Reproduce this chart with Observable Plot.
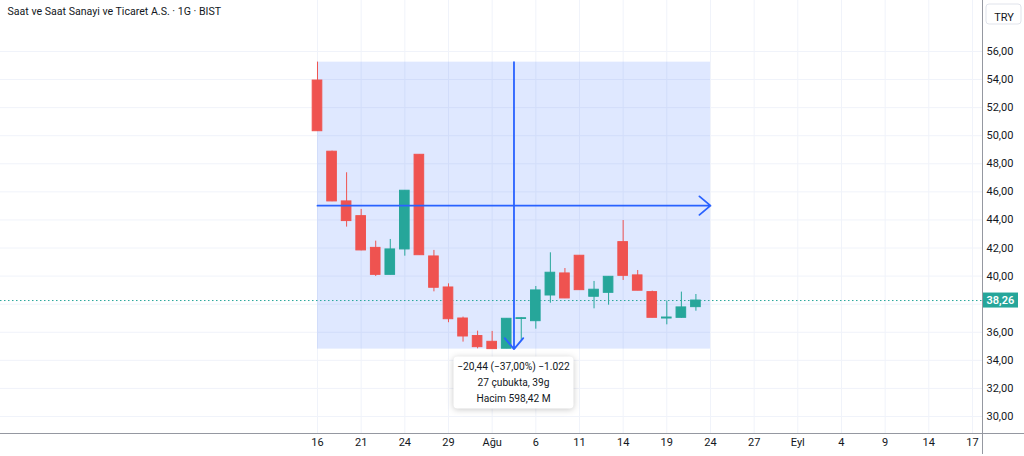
<!DOCTYPE html>
<html>
<head>
<meta charset="utf-8">
<script src="https://cdn.jsdelivr.net/npm/d3@7"></script>
<script src="https://cdn.jsdelivr.net/npm/@observablehq/plot@0.6"></script>
<style>
  html, body { margin: 0; padding: 0; background: #ffffff; }
  #chart svg { display: block; }
</style>
</head>
<body>
<div id="chart"></div>
<script>
// ---- data ----
const title = "Saat ve Saat Sanayi ve Ticaret A.S. · 1G · BIST";
const currency = "TRY";
const opens  = [53.93,48.86,45.32,44.27,42.01,40.09,41.90,48.64,41.40,39.19,36.98,35.73,35.32,34.83,36.95,36.79,38.62,40.19,41.45,38.53,38.81,42.42,40.05,38.86,36.98,37.03,37.79];
const highs  = [55.24,48.90,47.36,44.75,42.49,42.61,46.08,48.64,41.83,39.45,37.08,36.08,36.06,36.96,37.02,39.26,41.66,40.54,41.45,39.62,39.95,43.96,40.40,38.93,38.22,38.86,38.69];
const lows   = [50.30,45.30,43.49,41.80,39.97,40.09,41.42,41.49,38.88,36.68,35.30,34.82,34.80,34.83,35.37,36.22,38.07,38.40,39.00,37.67,37.93,39.69,38.96,37.03,36.53,37.00,37.50];
const closes = [50.32,45.32,43.92,41.83,40.09,41.90,46.08,41.49,39.17,36.93,35.70,34.94,34.80,36.96,37.00,38.98,40.24,38.41,39.00,39.03,39.95,40.02,38.96,37.03,37.05,37.77,38.26];
const lastPrice = 38.26;
const yGrid = [30,32,34,36,38,40,42,44,46,48,50,52,54,56];
const yTickLabels = [30,32,34,36,40,42,44,46,48,50,52,54,56]; // 38 hidden behind the last-price label
const xTickIdx = [0,3,6,9,12,15,18,21,24,27,30,33,36,39,42,45];
const xTickLabels = ["16","21","24","29","Ağu","6","11","14","19","24","27","Eyl","4","9","14","17"];
const measureIdx = [0, 27];
const measureRange = [34.80, 55.24];
const measureText = ["−20,44 (−37,00%) −1.022", "27 çubukta, 39g", "Hacim 598,42 M"];

const UP = "#26a69a", DOWN = "#ef5350", BLUE = "#2962ff", GRID = "#f0f3fa", TEXT = "#131722", BORDER = "#9598a1";

const candles = opens.map((o, i) => ({i, o, h: highs[i], l: lows[i], c: closes[i], col: closes[i] >= o ? UP : DOWN}));
const fmt = v => v.toFixed(2).replace(".", ",");
const midIdx = (measureIdx[0] + measureIdx[1]) / 2;
const midVal = (measureRange[0] + measureRange[1]) / 2;

// tooltip box under the measurement
function tooltipMark(index, scales) {
  const cx = scales.x(midIdx), top = scales.y(measureRange[0]) + 8;
  const w = 120, h = 52;
  const g = d3.create("svg:g");
  g.append("rect").attr("x", cx - w / 2).attr("y", top).attr("width", w).attr("height", h).attr("rx", 4)
    .attr("fill", "#ffffff").style("filter", "drop-shadow(0 1px 3px rgba(0,0,0,0.22))");
  measureText.forEach((t, k) => {
    g.append("text").attr("x", cx).attr("y", top + 10 + k * 16).attr("dy", "0.35em")
      .attr("text-anchor", "middle").attr("fill", TEXT).attr("font-size", 10.2).text(t);
  });
  return g.node();
}

// axis chrome: borders, currency box, last price box
function chromeMark(index, scales, values, dims) {
  const {width, height, marginRight, marginBottom} = dims;
  const xr = width - marginRight, yb = height - marginBottom;
  const g = d3.create("svg:g");
  g.append("line").attr("x1", xr + 0.5).attr("x2", xr + 0.5).attr("y1", 0).attr("y2", height - 2).attr("stroke", BORDER);
  g.append("line").attr("x1", 0).attr("x2", width).attr("y1", yb + 0.5).attr("y2", yb + 0.5).attr("stroke", BORDER);
  g.append("rect").attr("x", xr + 4).attr("y", 4).attr("width", 35).attr("height", 20).attr("rx", 3)
    .attr("fill", "#ffffff").attr("stroke", "#e0e3eb");
  const yp = scales.y(lastPrice);
  g.append("rect").attr("x", xr + 1).attr("y", yp - 7.5).attr("width", 35).attr("height", 15).attr("fill", UP);
  return g.node();
}

const chart = Plot.plot({
  width: 1024,
  height: 456,
  marginLeft: 0,
  marginRight: 42,
  marginTop: 0,
  marginBottom: 23,
  x: {type: "linear", domain: [-21.78, 45.69], axis: null, label: null},
  y: {type: "linear", domain: [28.79, 59.63], axis: null, label: null},
  style: {fontFamily: "Roboto, 'Noto Sans', sans-serif", fontSize: "11px", color: TEXT, background: "#ffffff"},
  marks: [
    Plot.gridY(yGrid, {stroke: GRID, strokeOpacity: 1}),
    Plot.gridX(xTickIdx, {stroke: GRID, strokeOpacity: 1}),
    Plot.rect([0], {x1: () => measureIdx[0], x2: () => measureIdx[1], y1: () => measureRange[0], y2: () => measureRange[1], fill: BLUE, fillOpacity: 0.15}),
    Plot.ruleY([lastPrice], {stroke: UP, strokeDasharray: "1.5,2.5", strokeWidth: 1}),
    Plot.ruleX(candles, {x: "i", y1: "l", y2: "h", stroke: "col", strokeWidth: 1}),
    Plot.rect(candles, {x1: d => d.i - 0.33, x2: d => d.i + 0.33, y1: "o", y2: "c", fill: "col", stroke: "col", strokeWidth: 1}),
    Plot.arrow([0], {x1: () => measureIdx[0], x2: () => measureIdx[1], y1: () => midVal, y2: () => midVal, stroke: BLUE, strokeWidth: 1.8, headLength: 12, headAngle: 80}),
    Plot.arrow([0], {x1: () => midIdx, x2: () => midIdx, y1: () => measureRange[1], y2: () => measureRange[0], stroke: BLUE, strokeWidth: 1.8, headLength: 12, headAngle: 80}),
    Plot.axisY(yTickLabels, {anchor: "right", label: null, tickSize: 0, tickPadding: 4, tickFormat: fmt, fill: TEXT}),
    Plot.axisX(xTickIdx, {anchor: "bottom", label: null, tickSize: 0, tickPadding: 5, tickFormat: d => xTickLabels[xTickIdx.indexOf(d)], fill: TEXT}),
    Plot.text([title], {text: d => d, frameAnchor: "top-left", dx: 7, dy: 7, lineAnchor: "top", textAnchor: "start", fill: TEXT, fontSize: 10.6}),
    tooltipMark,
    chromeMark,
    Plot.text([currency], {text: d => d, frameAnchor: "top-right", dx: 21.5, dy: 13, textAnchor: "middle", fill: TEXT, fontSize: 11}),
    Plot.text([lastPrice], {y: d => d, text: d => fmt(d), frameAnchor: "right", dx: 4, textAnchor: "start", fill: "#ffffff", fontSize: 11, fontWeight: 600})
  ]
});
chart.setAttribute("color", TEXT);
document.getElementById("chart").append(chart);
</script>
</body>
</html>
